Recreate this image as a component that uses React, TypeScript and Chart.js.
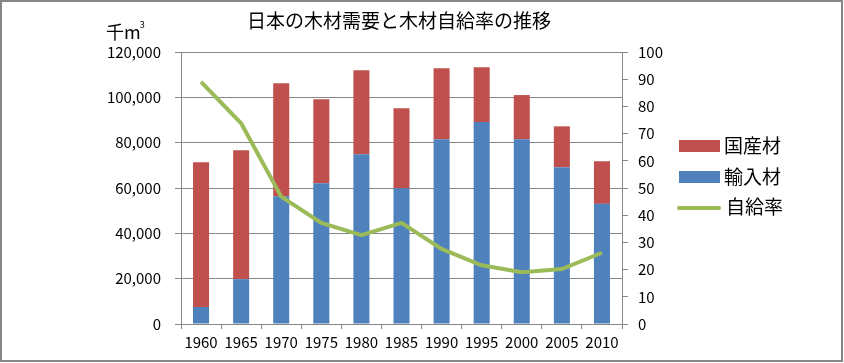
import React, { useEffect, useRef } from "react";
import { Chart, registerables } from "chart.js";

Chart.register(...registerables);

const years = ["1960", "1965", "1970", "1975", "1980", "1985", "1990", "1995", "2000", "2005", "2010"];
const imported = [7500, 19800, 56400, 62100, 74900, 59900, 81500, 89100, 81500, 69200, 53000];
const domestic = [63900, 56800, 49800, 37000, 37000, 35300, 31300, 24200, 19500, 18000, 18800];
const selfRate = [89.0, 73.8, 46.8, 37.2, 32.7, 37.2, 27.6, 21.6, 19.0, 20.2, 26.2];

const title = "日本の木材需要と木材自給率の推移";
const unitLabel = "千m";
const legendLabels = ["国産材", "輸入材", "自給率"];

const RED = "#C0504D";
const BLUE = "#4F81BD";
const GREEN = "#9BBB59";
const GRID = "#868686";
const FONT = "'Noto Sans CJK JP', 'Noto Sans', sans-serif";

export default function App() {
  const ref = useRef<HTMLCanvasElement | null>(null);

  useEffect(() => {
    document.body.style.margin = "0";
    const canvas = ref.current;
    if (!canvas) return;

    const decor = {
      id: "decor",
      afterDraw(chart: any) {
        const ctx = chart.ctx as CanvasRenderingContext2D;
        ctx.save();
        // outer border
        ctx.strokeStyle = GRID;
        ctx.lineWidth = 2;
        ctx.strokeRect(1, 1, 841, 360);
        // title
        ctx.fillStyle = "#000";
        ctx.font = `19px ${FONT}`;
        ctx.textAlign = "center";
        ctx.textBaseline = "middle";
        ctx.fillText(title, 399, 21);
        // unit
        ctx.font = `18px ${FONT}`;
        ctx.textAlign = "left";
        ctx.fillText(unitLabel, 106, 32);
        const w = ctx.measureText(unitLabel).width;
        ctx.font = `9px ${FONT}`;
        ctx.fillText("3", 106 + w - 1, 25);
        // legend
        ctx.font = `19px ${FONT}`;
        ctx.fillStyle = RED;
        ctx.fillRect(679, 140, 41, 12);
        ctx.fillStyle = BLUE;
        ctx.fillRect(679, 171, 41, 12);
        ctx.strokeStyle = GREEN;
        ctx.lineWidth = 4;
        ctx.lineCap = "round";
        ctx.beginPath();
        ctx.moveTo(679, 208);
        ctx.lineTo(719, 208);
        ctx.stroke();
        ctx.fillStyle = "#000";
        ctx.textBaseline = "middle";
        ctx.fillText(legendLabels[0], 724, 146);
        ctx.fillText(legendLabels[1], 724, 177);
        ctx.fillText(legendLabels[2], 726, 207);
        ctx.restore();
      },
    };

    const chart = new Chart(canvas, {
      type: "bar",
      data: {
        labels: years,
        datasets: [
          {
            type: "line",
            label: legendLabels[2],
            data: selfRate,
            borderColor: GREEN,
            backgroundColor: GREEN,
            borderWidth: 4,
            pointRadius: 0,
            tension: 0,
            yAxisID: "y1",
            order: 0,
          } as any,
          {
            label: legendLabels[1],
            data: imported,
            backgroundColor: BLUE,
            stack: "s",
            yAxisID: "y",
            order: 1,
            barPercentage: 0.4,
            categoryPercentage: 1,
          },
          {
            label: legendLabels[0],
            data: domestic,
            backgroundColor: RED,
            stack: "s",
            yAxisID: "y",
            order: 1,
            barPercentage: 0.4,
            categoryPercentage: 1,
          },
        ],
      },
      options: {
        animation: false,
        responsive: false,
        maintainAspectRatio: false,
        layout: { padding: { left: 0, right: 0, top: 52, bottom: 0 } },
        plugins: {
          legend: { display: false },
          title: { display: false },
          tooltip: { enabled: false },
        },
        scales: {
          x: {
            stacked: true,
            grid: {
              offset: true,
              drawOnChartArea: false,
              color: GRID,
              tickLength: 5,
            },
            border: { color: GRID, width: 1 },
            ticks: {
              color: "#000",
              font: { family: FONT, size: 15 },
              padding: 4,
              maxRotation: 0,
              autoSkip: false,
            },
            afterFit(scale: any) {
              scale.height = 39;
            },
          },
          y: {
            stacked: true,
            position: "left",
            min: 0,
            max: 120000,
            ticks: {
              stepSize: 20000,
              color: "#000",
              font: { family: FONT, size: 15 },
              padding: 14,
              callback: (v: any) => Number(v).toLocaleString("en-US"),
            },
            grid: { color: GRID, tickLength: 6 },
            border: { color: GRID, width: 1 },
            afterFit(scale: any) {
              scale.width = 181;
            },
          },
          y1: {
            position: "right",
            min: 0,
            max: 100,
            ticks: {
              stepSize: 10,
              color: "#000",
              font: { family: FONT, size: 15 },
              padding: 10,
            },
            grid: { drawOnChartArea: false, color: GRID, tickLength: 6 },
            border: { color: GRID, width: 1 },
            afterFit(scale: any) {
              scale.width = 222;
            },
          },
        },
      },
      plugins: [decor],
    });

    return () => chart.destroy();
  }, []);

  return <canvas ref={ref} width={844} height={363} style={{ display: "block", width: 844, height: 363 }} />;
}
